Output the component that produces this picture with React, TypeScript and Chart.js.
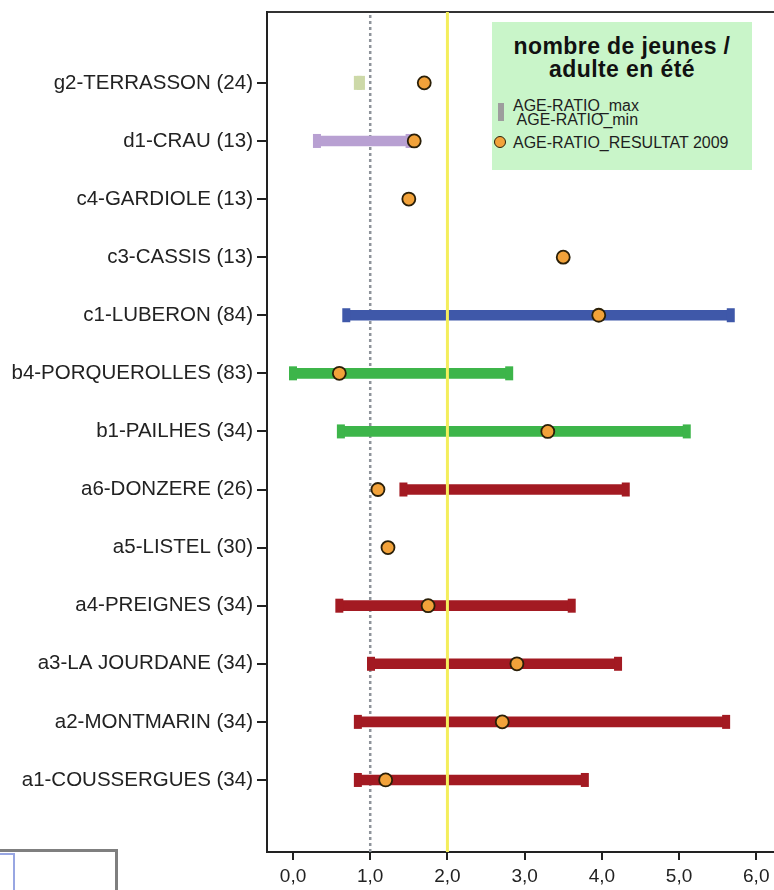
import React, { useEffect, useRef } from 'react';
import { Chart, registerables } from 'chart.js';

Chart.register(...registerables);

// Categories, bottom (index 0) to top (index 12)
const CATEGORIES = [
  'a1-COUSSERGUES (34)',
  'a2-MONTMARIN (34)',
  'a3-LA JOURDANE (34)',
  'a4-PREIGNES (34)',
  'a5-LISTEL (30)',
  'a6-DONZERE (26)',
  'b1-PAILHES (34)',
  'b4-PORQUEROLLES (83)',
  'c1-LUBERON (84)',
  'c3-CASSIS (13)',
  'c4-GARDIOLE (13)',
  'd1-CRAU (13)',
  'g2-TERRASSON (24)',
];

const RANGE_MIN: (number | null)[] = [0.84, 0.84, 1.01, 0.6, null, 1.43, 0.62, 0.0, 0.69, null, null, 0.31, 0.84];
const RANGE_MAX: (number | null)[] = [3.78, 5.61, 4.21, 3.61, null, 4.31, 5.1, 2.8, 5.67, null, null, 1.51, 0.88];
const RESULT_2009 = [1.2, 2.71, 2.9, 1.75, 1.23, 1.1, 3.3, 0.6, 3.96, 3.5, 1.5, 1.57, 1.7];

const RED = '#a31a22';
const GREEN = '#3db54a';
const BLUE = '#3f58a9';
const PURPLE = '#b8a0d2';
const PALE = '#cdd9a8';
const RANGE_COLORS: (string | null)[] = [RED, RED, RED, RED, null, RED, GREEN, GREEN, BLUE, null, null, PURPLE, PALE];

const X_TICKS = [0, 1, 2, 3, 4, 5, 6];
const REF_GREY = 1;
const REF_YELLOW = 2;

const X_MIN = -0.337;
const X_MAX = 6.23;
const Y_MIN = -1.24;
const Y_MAX = 13.22;

const FONT = '"Liberation Sans", Arial, Helvetica, sans-serif';

// Chart.js reserves room for point overflow (caps: 15px); the canvas is shifted/enlarged so
// the plot frame lands where the reference has it.
const OVER = 15;
const CANVAS_W = 774 + OVER;
const CANVAS_H = 890 + 3;

export default function App() {
  const ref = useRef<HTMLCanvasElement>(null);

  useEffect(() => {
    const idx = CATEGORIES.map((_, i) => i).filter((i) => RANGE_MIN[i] != null && RANGE_MAX[i] != null);
    const capData: { x: number; y: number }[] = [];
    const capColors: string[] = [];
    idx.forEach((i) => {
      capData.push({ x: RANGE_MIN[i] as number, y: i });
      capData.push({ x: RANGE_MAX[i] as number, y: i });
      capColors.push(RANGE_COLORS[i] as string, RANGE_COLORS[i] as string);
    });

    const chart = new Chart(ref.current as HTMLCanvasElement, {
      type: 'bar',
      data: {
        datasets: [
          {
            type: 'scatter',
            label: 'AGE-RATIO_RESULTAT 2009',
            data: RESULT_2009.map((v, i) => ({ x: v, y: i })),
            order: 0,
            pointRadius: 6.5,
            pointHoverRadius: 6.5,
            pointBackgroundColor: '#f2a23a',
            pointBorderColor: '#2a1f08',
            pointBorderWidth: 1.8,
            xAxisID: 'x',
            yAxisID: 'y',
          } as any,
          {
            type: 'line',
            label: 'ref2',
            data: [
              { x: REF_YELLOW, y: Y_MIN },
              { x: REF_YELLOW, y: Y_MAX },
            ],
            borderColor: '#f4ee5c',
            borderWidth: 3,
            pointRadius: 0,
            pointHoverRadius: 0,
            order: 1,
            xAxisID: 'x',
            yAxisID: 'y',
          } as any,
          {
            type: 'scatter',
            label: 'caps',
            data: capData,
            pointStyle: 'line',
            pointRotation: 90,
            pointRadius: 7,
            pointHoverRadius: 7,
            pointBorderWidth: 8,
            pointBorderColor: capColors,
            pointBackgroundColor: capColors,
            order: 2,
            xAxisID: 'x',
            yAxisID: 'y',
          } as any,
          {
            type: 'bar',
            label: 'AGE-RATIO_max / AGE-RATIO_min',
            data: idx.map((i) => ({ y: i, x: [RANGE_MIN[i], RANGE_MAX[i]] })),
            backgroundColor: idx.map((i) => RANGE_COLORS[i]),
            barThickness: 10,
            borderWidth: 0,
            order: 3,
            xAxisID: 'x',
            yAxisID: 'y',
          } as any,
          {
            type: 'line',
            label: 'ref1',
            data: [
              { x: REF_GREY, y: Y_MIN },
              { x: REF_GREY, y: Y_MAX },
            ],
            borderColor: '#8e939a',
            borderWidth: 2.5,
            borderDash: [3, 3],
            pointRadius: 0,
            pointHoverRadius: 0,
            order: 4,
            xAxisID: 'x',
            yAxisID: 'y',
          } as any,
        ],
      },
      options: {
        indexAxis: 'y',
        animation: false,
        responsive: false,
        maintainAspectRatio: false,
        events: [],
        layout: { padding: 0 },
        plugins: {
          legend: { display: false },
          tooltip: { enabled: false },
        },
        scales: {
          x: {
            type: 'linear',
            position: 'bottom',
            min: X_MIN,
            max: X_MAX,
            offset: false,
            afterBuildTicks: (s: any) => {
              s.ticks = X_TICKS.map((v) => ({ value: v }));
            },
            afterFit: (s: any) => {
              s.height = 38;
              s.paddingLeft = 0;
              s.paddingRight = 0;
            },
            grid: {
              display: true,
              drawOnChartArea: false,
              drawTicks: true,
              tickLength: 8,
              color: '#222',
              lineWidth: 2,
              offset: false,
            },
            border: { display: true, color: '#222', width: 2 },
            ticks: {
              color: '#222',
              font: { family: FONT, size: 19 },
              padding: 5,
              autoSkip: false,
              maxRotation: 0,
              callback: (v: any) => Number(v).toFixed(1).replace('.', ','),
            },
          },
          xTop: {
            type: 'linear',
            axis: 'x',
            position: 'top',
            min: X_MIN,
            max: X_MAX,
            ticks: { display: false },
            grid: { display: false, drawTicks: false },
            border: { display: true, color: '#333', width: 2 },
            afterFit: (s: any) => {
              s.height = 15;
              s.paddingLeft = 0;
              s.paddingRight = 0;
            },
          },
          y: {
            type: 'linear',
            position: 'left',
            min: Y_MIN,
            max: Y_MAX,
            offset: false,
            afterBuildTicks: (s: any) => {
              s.ticks = CATEGORIES.map((_, i) => ({ value: i }));
            },
            afterFit: (s: any) => {
              s.width = 267;
              s.paddingTop = 0;
              s.paddingBottom = 0;
            },
            grid: {
              display: true,
              drawOnChartArea: false,
              drawTicks: true,
              tickLength: 10,
              color: '#222',
              lineWidth: 2,
              offset: false,
            },
            border: { display: true, color: '#222', width: 2 },
            ticks: {
              color: '#222',
              font: { family: FONT, size: 20.5 },
              padding: 4,
              autoSkip: false,
              callback: (v: any) => CATEGORIES[Math.round(Number(v))] ?? '',
            },
          },
        } as any,
      },
    });
    return () => chart.destroy();
  }, []);

  const textStyle: React.CSSProperties = {
    position: 'absolute',
    fontFamily: FONT,
    color: '#1e1e1e',
    whiteSpace: 'pre',
  };

  return (
    <div
      style={{
        position: 'absolute',
        left: 0,
        top: 0,
        width: 774,
        height: 890,
        overflow: 'hidden',
        background: '#fff',
      }}
    >
      <canvas
        ref={ref}
        width={CANVAS_W}
        height={CANVAS_H}
        style={{ position: 'absolute', left: 0, top: -3, display: 'block', width: CANVAS_W, height: CANVAS_H }}
      />

      {/* Legend */}
      <div
        style={{
          position: 'absolute',
          left: 492,
          top: 22,
          width: 260,
          height: 148,
          background: '#c9f5c9',
        }}
      >
        <div
          style={{
            ...textStyle,
            left: 0,
            top: 13,
            width: 260,
            textAlign: 'center',
            fontWeight: 'bold',
            fontSize: 23,
            lineHeight: '23px',
            letterSpacing: '0.4px',
            color: '#111',
          }}
        >
          {'nombre de jeunes /\nadulte en été'}
        </div>
        <div style={{ position: 'absolute', left: 6, top: 81, width: 6, height: 18, background: '#9d9d9d' }} />
        <div style={{ ...textStyle, left: 21, top: 77, fontSize: 16, lineHeight: '14px' }}>
          {'AGE-RATIO_max\n AGE-RATIO_min'}
        </div>
        <div
          style={{
            position: 'absolute',
            left: 2,
            top: 114,
            width: 10,
            height: 10,
            borderRadius: '50%',
            background: '#f2a23a',
            border: '1.8px solid #2a1f08',
          }}
        />
        <div style={{ ...textStyle, left: 21, top: 112, fontSize: 16, lineHeight: '18px' }}>
          {'AGE-RATIO_RESULTAT 2009'}
        </div>
      </div>

      {/* Partial panel at bottom-left */}
      <div
        style={{
          position: 'absolute',
          left: 0,
          top: 849,
          width: 118,
          height: 50,
          boxSizing: 'border-box',
          borderTop: '3px solid #7f7f7f',
          borderRight: '3px solid #7f7f7f',
        }}
      />
      <div
        style={{
          position: 'absolute',
          left: 0,
          top: 853,
          width: 15,
          height: 45,
          boxSizing: 'border-box',
          borderTop: '2px solid #98a6e2',
          borderRight: '2px solid #98a6e2',
        }}
      />
    </div>
  );
}
